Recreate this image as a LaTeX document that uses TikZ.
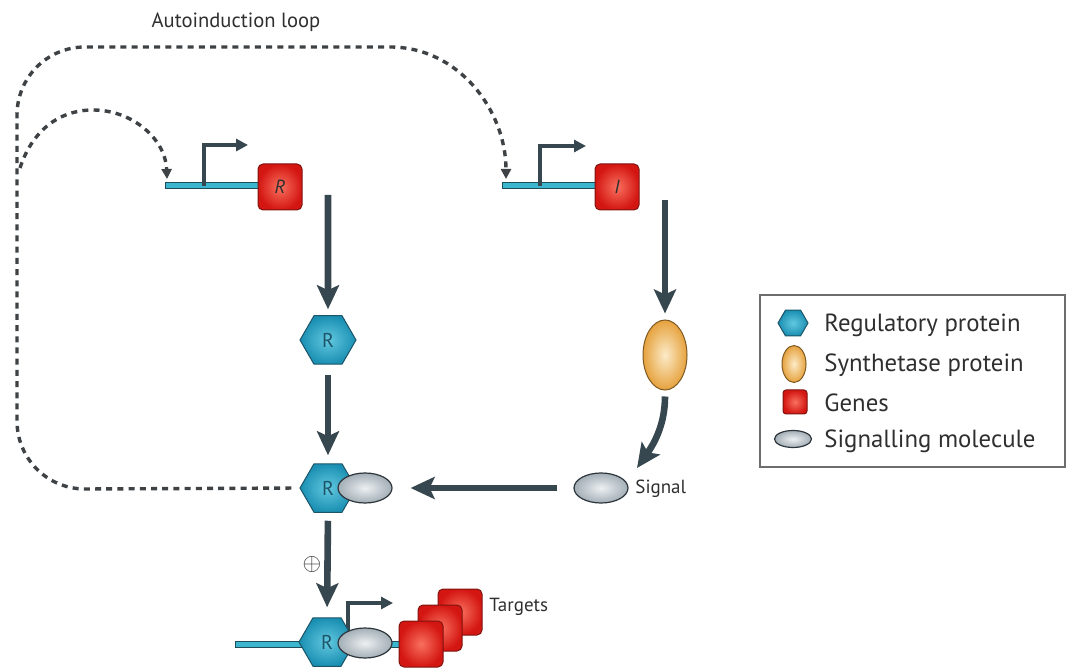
\documentclass[tikz,border=0pt]{standalone}
\usepackage{fontspec}
\setmainfont{PT Sans}
\usetikzlibrary{arrows.meta,shapes.geometric}

\definecolor{hexin}{HTML}{62C8E0}
\definecolor{hexout}{HTML}{1A8FB2}
\definecolor{hexline}{HTML}{1D5468}
\definecolor{genein}{HTML}{F8705E}
\definecolor{geneout}{HTML}{D41612}
\definecolor{geneline}{HTML}{7E1410}
\definecolor{synthin}{HTML}{FCEBC8}
\definecolor{synthout}{HTML}{E6A23E}
\definecolor{synthline}{HTML}{7E5A22}
\definecolor{molin}{HTML}{EDF0F2}
\definecolor{molout}{HTML}{A3AEB6}
\definecolor{molline}{HTML}{2E363C}
\definecolor{dnafill}{HTML}{3CB6CE}
\definecolor{dnaline}{HTML}{1F4E5A}
\definecolor{arrowdark}{HTML}{37474F}
\definecolor{dashgrey}{HTML}{3E4244}
\definecolor{txtgrey}{HTML}{2F2F2F}

\tikzset{
	protein/.style={regular polygon, regular polygon sides=6, minimum size=28pt, inner sep=0pt,
		draw=hexline, line width=0.5pt, inner color=hexin, outer color=hexout,
		text=hexline, font=\fontsize{10}{11}\selectfont},
	gene/.style={rectangle, rounded corners=2.5pt, minimum width=22pt, minimum height=23pt, inner sep=0pt,
		draw=geneline, line width=0.5pt, inner color=genein, outer color=geneout,
		text=txtgrey, font=\fontsize{9.5}{10}\selectfont\itshape},
	synth/.style={ellipse, minimum width=22pt, minimum height=35pt, inner sep=0pt,
		draw=synthline, line width=0.5pt, inner color=synthin, outer color=synthout},
	molecule/.style={ellipse, minimum width=27pt, minimum height=15pt, inner sep=0pt,
		draw=molline, line width=0.6pt, inner color=molin, outer color=molout},
	dna/.style={draw=dnaline, line width=0.5pt, fill=dnafill},
	bigarrow/.style={draw=arrowdark, line width=3.3pt, -{Stealth[length=12pt,width=11pt,inset=2.5pt]}},
	promoter/.style={draw=arrowdark, line width=1.8pt, -{Triangle[length=6pt,width=6pt]}},
	feedback/.style={draw=dashgrey, line width=1.7pt, dash pattern=on 3pt off 2.6pt,
		-{Triangle[length=5pt,width=5pt]}},
	txt/.style={text=txtgrey, font=\fontsize{9.5}{11}\selectfont, inner sep=0pt},
	legendtxt/.style={text=txtgrey, font=\fontsize{12.4}{14}\selectfont, inner sep=0pt, anchor=base west}
}

\begin{document}
\begin{tikzpicture}[x=0.5pt,y=-0.5pt]
	%%%%% START %%%%%
	\useasboundingbox (0,0) rectangle (1068,672);

	% R gene
	\draw[dna] (165,183) rectangle (262,189);
	\coordinate (rprom) at (204,186);
	\coordinate (rtss) at (248,145);
	\draw[promoter] (rprom) |- (rtss);
	\node[gene] (rgene) at (280,187) {R};

	% I gene
	\draw[dna] (502,183) rectangle (598,189);
	\coordinate (iprom) at (540,186);
	\coordinate (itss) at (586,146);
	\draw[promoter] (iprom) |- (itss);
	\node[gene] (igene) at (617,187) {I};

	% proteins
	\node[protein] (rprot) at (328,340) {R};
	\node[synth] (synth) at (665,355) {};

	% R + signal complex
	\node[protein] (rcomp) at (328,488) {R};
	\node[molecule] (rsig) at (365,488) {};
	\node[molecule] (sig) at (601,488) {};
	\node[txt, anchor=west] (siglabel) at (635,489) {Signal};

	% main arrows
	\coordinate (rout) at (328,195);
	\coordinate (iout) at (665,200);
	\coordinate (sigtip) at (637,468);
	\draw[bigarrow, shorten >=3pt] (rout) -- (rprot.north);
	\draw[bigarrow, shorten <=5pt, shorten >=4pt] (rprot.south) -- (rcomp.north);
	\draw[bigarrow, shorten >=3pt] (iout) -- (synth.north);
	\draw[bigarrow, shorten <=3pt] (synth.south) to[out=-90,in=55] (sigtip);
	\draw[bigarrow, shorten <=8pt, shorten >=9pt] (sig.west) -- (rsig.east);

	% targets
	\draw[dna] (235,641) rectangle (402,647);
	\coordinate (tprom) at (348,630);
	\coordinate (ttss) at (393,603);
	\draw[promoter] (tprom) |- (ttss);
	\node[protein] (tprot) at (327,642) {R};
	\node[molecule] (tsig) at (365,643) {};
	\node[gene] (tgt3) at (460,612) {};
	\node[gene] (tgt2) at (440,628) {};
	\node[gene] (tgt1) at (421,644) {};
	\node[txt, anchor=west] (tgtlabel) at (489,607) {Targets};
	\draw[bigarrow, shorten <=4pt, shorten >=5pt] (rcomp.south) -- (tprot.north);
	\node[text=txtgrey, font=\fontsize{12}{12}\selectfont] (plus) at (312,564) {$\oplus$};

	% autoinduction loop
	\node[txt, font=\fontsize{10.3}{12}\selectfont] (looplabel) at (236,22) {Autoinduction loop};
	\coordinate (idna) at (506,179);
	\coordinate (rdna) at (167,179);
	\coordinate (loopstart) at (20,168);
	\draw[feedback, shorten <=4pt] (rcomp.west) -- (85,489) to[out=180,in=-90] (17,421)
		-- (17,115) to[out=90,in=180] (85,47) -- (390,47) to[out=0,in=90] (idna);
	\draw[feedback] (loopstart) to[out=72,in=180] (93,110) to[out=0,in=92] (rdna);

	% legend
	\draw[draw=txtgrey!70, line width=0.6pt] (760,295) rectangle (1065,467);
	\node[protein, minimum size=15pt] (lgprot) at (793,323) {};
	\node[synth, minimum width=12pt, minimum height=18.5pt] (lgsynth) at (794,364) {};
	\node[gene, minimum width=12pt, minimum height=12pt, rounded corners=1.5pt] (lggene) at (795,402) {};
	\node[molecule, minimum width=18.5pt, minimum height=8.5pt] (lgmol) at (793,439) {};
	\node[legendtxt] (lgprottxt) at (824,332) {Regulatory protein};
	\node[legendtxt] (lgsynthtxt) at (824,372) {Synthetase protein};
	\node[legendtxt] (lggenetxt) at (824,412) {Genes};
	\node[legendtxt] (lgmoltxt) at (824,448) {Signalling molecule};
	%%%%% END %%%%%
\end{tikzpicture}
\end{document}
